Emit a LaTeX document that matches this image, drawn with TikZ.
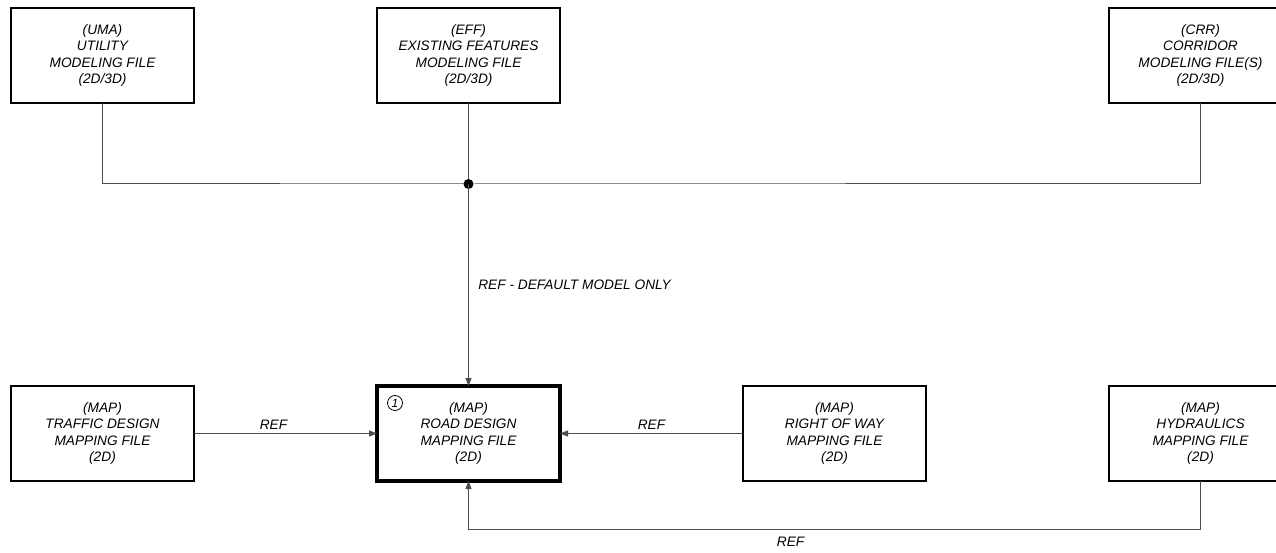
\documentclass[tikz,border=0pt]{standalone}
\usepackage{fontspec}
\setmainfont{Liberation Sans}
\usetikzlibrary{positioning,arrows.meta}

\begin{document}
\begin{tikzpicture}[x=1pt,y=1pt,node distance=283pt and 183pt,
  every node/.style={font=\fontsize{13.7}{16.3}\selectfont\itshape,align=center},
  filebox/.style={draw,line width=2pt,minimum width=183pt,minimum height=95pt,inner sep=0pt,outer sep=0pt},
  link/.style={line width=1pt,draw=black!70},
  ref/.style={link,-{Triangle[length=8pt,width=6pt]}}]
  \useasboundingbox (0,0) rectangle (1276,-553);
  % top row
  \node[filebox] (uma) at (102.5,-55.5) {(UMA)\\UTILITY\\MODELING FILE\\(2D/3D)};
  \node[filebox,right=of uma] (eff) {(EFF)\\EXISTING FEATURES\\MODELING FILE\\(2D/3D)};
  % bottom row
  \node[filebox,below=of uma] (trf) {(MAP)\\TRAFFIC DESIGN\\MAPPING FILE\\(2D)};
  \node[filebox,line width=4pt,below=of eff] (road) {(MAP)\\ROAD DESIGN\\MAPPING FILE\\(2D)};
  \node[filebox,right=of road] (row) {(MAP)\\RIGHT OF WAY\\MAPPING FILE\\(2D)};
  \node[filebox,right=of row] (hyd) {(MAP)\\HYDRAULICS\\MAPPING FILE\\(2D)};
  \node[filebox,above=of hyd] (crr) {(CRR)\\CORRIDOR\\MODELING FILE(S)\\(2D/3D)};
  \node[draw,circle,line width=0.8pt,inner sep=0pt,minimum size=15pt,font=\fontsize{12}{12}\selectfont\itshape]
    (num) at ([xshift=18pt,yshift=-17pt]road.north west) {1};
  % connectors
  \coordinate (j) at ([yshift=-81pt]eff.south);
  \draw[link] (uma.south) |- (j) -| (crr.south);
  \draw[link] (eff.south) -- (j);
  \fill[black] (j) circle (5pt);
  \draw[ref] (j) -- node[right,xshift=6pt]{REF - DEFAULT MODEL ONLY} (road.north);
  \draw[ref] (trf.east) -- node[above,xshift=-12pt]{REF} (road.west);
  \draw[ref] (row.west) -- node[above]{REF} (road.east);
  \draw[ref] (hyd.south) -- ++(0,-48) -| node[pos=0.28,below=4pt]{REF} (road.south);
\end{tikzpicture}
\end{document}
